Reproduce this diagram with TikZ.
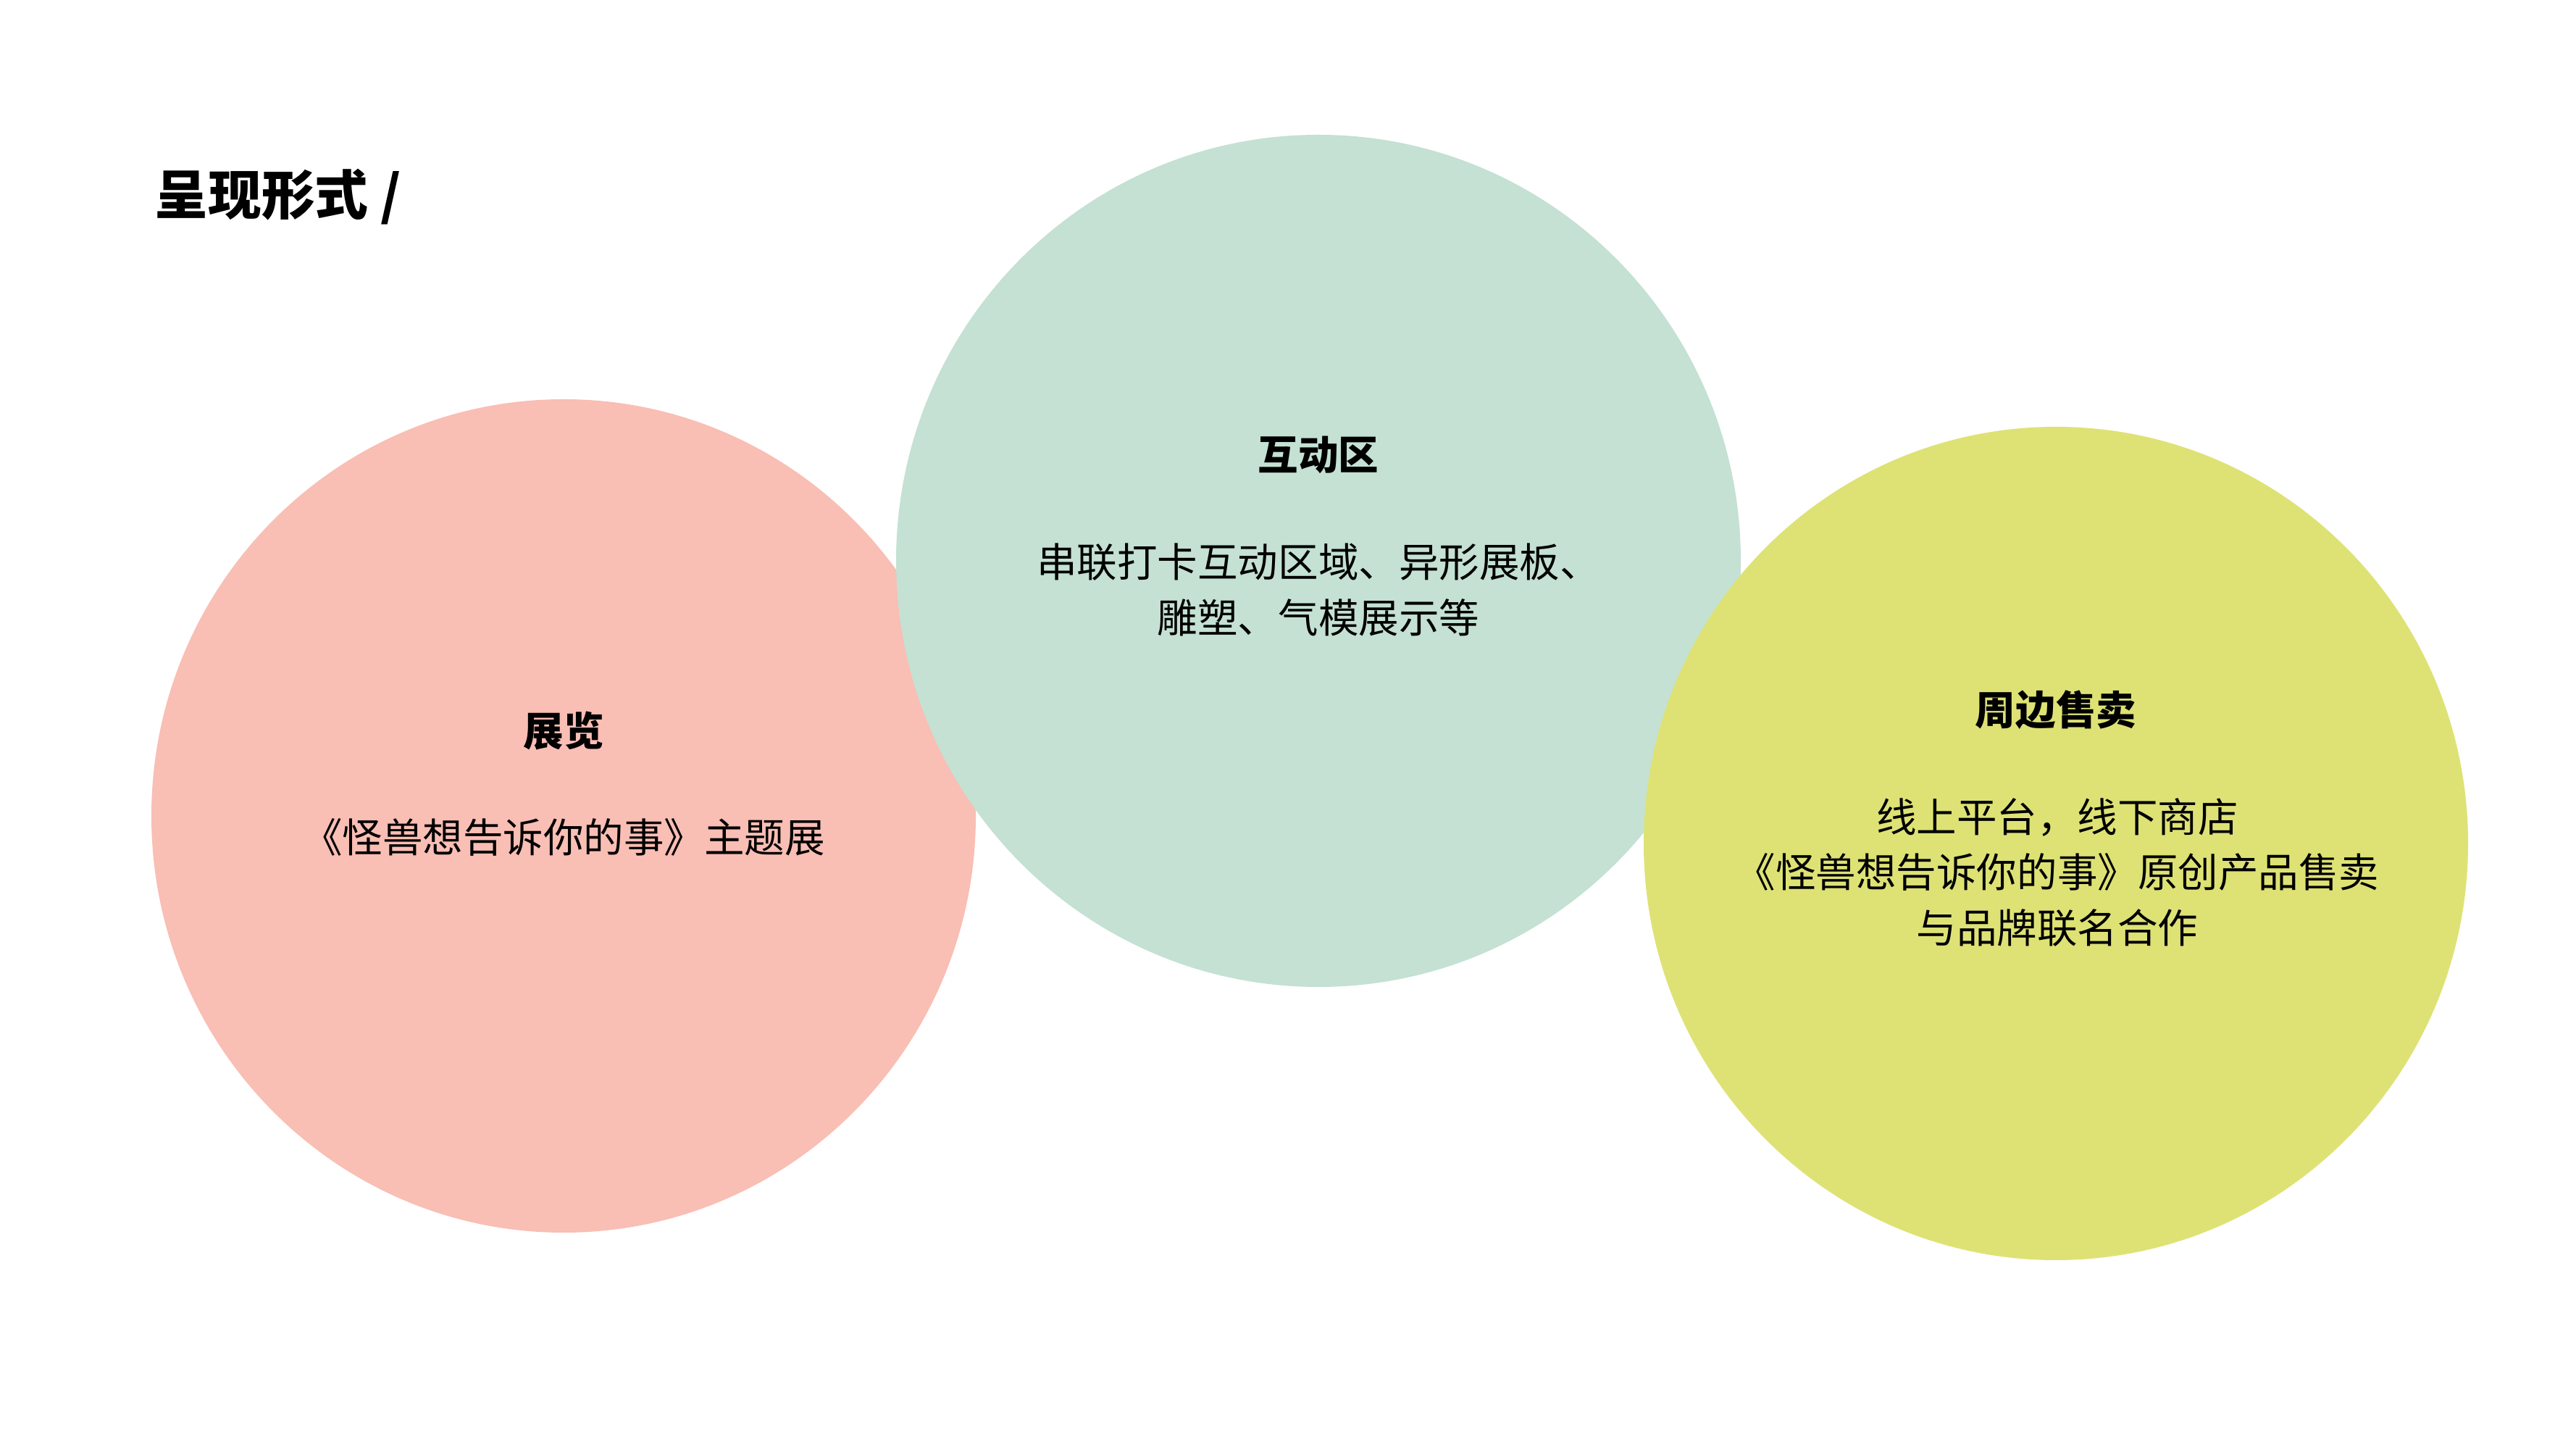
\documentclass[tikz,border=0pt]{standalone}
\usepackage{fontspec}
\setmainfont{Noto Sans CJK SC}
\usetikzlibrary{positioning,shapes.geometric}
\definecolor{pinkc}{RGB}{249,190,180}
\definecolor{greenc}{RGB}{196,225,211}
\definecolor{yellowc}{RGB}{222,226,117}
\tikzset{
	ball/.style={ellipse,inner sep=0pt,draw=none},
	head/.style={font=\bfseries\fontsize{15.8pt}{21.9pt}\selectfont,align=center},
	body/.style={font=\fontsize{15.8pt}{21.9pt}\selectfont,align=center}
}

\begin{document}
\begin{tikzpicture}
		\useasboundingbox (0,0) rectangle (35.56,20);
		\fill[white] (0,0) rectangle (35.56,20);
	
		\node[anchor=west,font=\bfseries\fontsize{21pt}{25pt}\selectfont] (titel) at (2.01,17.28){呈现形式 /};
		
		% circles
		\node[ball,fill=pinkc,minimum width=11.38cm,minimum height=11.50cm] (zhanlan) at (7.78,8.74){};
		\node[ball,fill=greenc,minimum width=11.66cm,minimum height=11.76cm] (hudong) at (18.20,12.26){};
		\node[ball,fill=yellowc,minimum width=11.38cm,minimum height=11.50cm] (zhoubian) at (28.38,8.36){};
		
		% texts
		\node[head] (zhanlanT) at (7.78,9.91){展览};
		\node[body] (zhanlanB) at (7.78,8.45){《怪兽想告诉你的事》主题展};
		
		\node[head] (hudongT) at (18.20,13.72){互动区};
		\node[body] (hudongB) at (18.20,11.86){串联打卡互动区域、异形展板、\\雕塑、气模展示等};
		
		\node[head] (zhoubianT) at (28.38,10.20){周边售卖};
		\node[body] (zhoubianB) at (28.40,7.96){线上平台，线下商店\\《怪兽想告诉你的事》原创产品售卖\\与品牌联名合作};
	\end{tikzpicture}
\end{document}
